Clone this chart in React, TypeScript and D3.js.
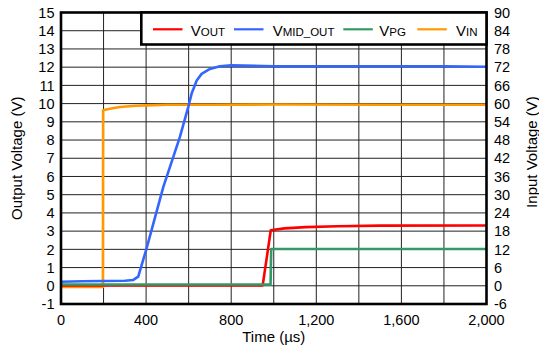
import { useEffect, useRef } from 'react';
import * as d3 from 'd3';

// tick labels
const timeTicks = [0, 400, 800, 1200, 1600, 2000];
const outTicks = [-1, 0, 1, 2, 3, 4, 5, 6, 7, 8, 9, 10, 11, 12, 13, 14, 15];
const inTicks = [-6, 0, 6, 12, 18, 24, 30, 36, 42, 48, 54, 60, 66, 72, 78, 84, 90];
const gridTimes = [200, 400, 600, 800, 1000, 1200, 1400, 1600, 1800];

// traces (time in µs, volts)
const vinTime = [0, 197, 198, 230, 277, 350, 400, 500, 700, 1000, 1500, 2000];
const vinVolts = [-0.4, -0.4, 57.8, 58.3, 58.9, 59.3, 59.4, 59.6, 59.6, 59.7, 59.6, 59.6];

const midTime = [0, 100, 200, 300, 340, 363, 400, 481, 559, 598, 614, 638, 661, 700, 747, 800, 1000, 1200, 1500, 1800, 2000];
const midVolts = [0.22, 0.25, 0.26, 0.28, 0.32, 0.5, 1.96, 5.43, 8.17, 9.81, 10.55, 11.27, 11.63, 11.9, 12.05, 12.1, 12.05, 12.05, 12.05, 12.05, 12.02];

const outTime = [0, 948, 986, 1050, 1150, 1300, 1500, 2000];
const outVolts = [0.02, 0.02, 3.05, 3.15, 3.22, 3.27, 3.3, 3.31];

const pgTime = [0, 985, 988, 2000];
const pgVolts = [0.07, 0.07, 2.02, 2.02];

const legendMain = ['V', 'V', 'V', 'V'];
const legendSub = ['OUT', 'MID_OUT', 'PG', 'IN'];
const colors = ['#ff0000', '#3366ff', '#339966', '#ff9900'];

const FONT = 'Liberation Sans, Arial, Helvetica, sans-serif';

const App = () => {
  const svgRef = useRef<SVGSVGElement>(null);

  useEffect(() => {
    if (!svgRef.current) return;
    const svg = d3.select(svgRef.current);
    svg.selectAll('*').remove();

    const left = 61, right = 486.5, top = 12.5, bottom = 304;

    const x = d3.scaleLinear().domain([0, 2000]).range([left, right]);
    const yL = d3.scaleLinear().domain([-1, 15]).range([bottom, top]);
    const yR = d3.scaleLinear().domain([-6, 90]).range([bottom, top]);

    svg.append('rect')
      .attr('width', 539).attr('height', 348).attr('fill', '#fff');

    // grid
    const grid = svg.append('g').attr('stroke', '#222').attr('stroke-width', 1);
    grid.selectAll('line.v')
      .data(gridTimes)
      .enter()
      .append('line')
      .attr('x1', d => x(d)).attr('x2', d => x(d))
      .attr('y1', top).attr('y2', bottom);
    grid.selectAll('line.h')
      .data(outTicks.slice(1, -1))
      .enter()
      .append('line')
      .attr('x1', left).attr('x2', right)
      .attr('y1', d => yL(d)).attr('y2', d => yL(d));

    // traces
    const traces = [
      { t: vinTime, v: vinVolts, y: yR, color: colors[3] },
      { t: midTime, v: midVolts, y: yL, color: colors[1] },
      { t: outTime, v: outVolts, y: yL, color: colors[0] },
      { t: pgTime, v: pgVolts, y: yL, color: colors[2] },
    ];
    traces.forEach(tr => {
      const line = d3.line<number>()
        .x((_, i) => x(tr.t[i]))
        .y(d => tr.y(d));
      svg.append('path')
        .datum(tr.v)
        .attr('fill', 'none')
        .attr('stroke', tr.color)
        .attr('stroke-width', 2.6)
        .attr('stroke-linejoin', 'round')
        .attr('d', line);
    });

    // frame
    svg.append('rect')
      .attr('x', left).attr('y', top)
      .attr('width', right - left).attr('height', bottom - top)
      .attr('fill', 'none')
      .attr('stroke', '#000')
      .attr('stroke-width', 2.6);

    // legend
    const lg = svg.append('g');
    lg.append('rect')
      .attr('x', 141.3).attr('y', top)
      .attr('width', right - 141.3).attr('height', 32)
      .attr('fill', '#fff')
      .attr('stroke', '#000')
      .attr('stroke-width', 2.6);
    const lineX = [153, 234, 343.3, 417.3];
    const textX = [190.7, 272.7, 379.3, 456];
    legendSub.forEach((sub, i) => {
      lg.append('line')
        .attr('x1', lineX[i]).attr('x2', lineX[i] + 29.5)
        .attr('y1', 29.3).attr('y2', 29.3)
        .attr('stroke', colors[i])
        .attr('stroke-width', 2.2);
      const t = lg.append('text')
        .attr('x', textX[i]).attr('y', 36)
        .style('font-family', FONT)
        .style('font-size', '15px')
        .style('fill', '#000');
      t.append('tspan').text(legendMain[i]);
      t.append('tspan').style('font-size', '11.5px').text(sub);
    });

    // tick labels
    const tickStyle = (sel: any) => sel
      .style('font-family', FONT)
      .style('font-size', '14.5px')
      .style('fill', '#000');

    svg.append('g').selectAll('text')
      .data(outTicks)
      .enter()
      .append('text')
      .attr('x', 54.5)
      .attr('y', d => yL(d))
      .attr('dy', '0.36em')
      .attr('text-anchor', 'end')
      .call(tickStyle)
      .text(d => d);

    svg.append('g').selectAll('text')
      .data(inTicks)
      .enter()
      .append('text')
      .attr('x', 494)
      .attr('y', d => yR(d))
      .attr('dy', '0.36em')
      .attr('text-anchor', 'start')
      .call(tickStyle)
      .text(d => d);

    svg.append('g').selectAll('text')
      .data(timeTicks)
      .enter()
      .append('text')
      .attr('x', d => x(d))
      .attr('y', 325)
      .attr('text-anchor', 'middle')
      .call(tickStyle)
      .text(d => d3.format(',')(d));

    // axis titles
    svg.append('text')
      .attr('x', (left + right) / 2)
      .attr('y', 342)
      .attr('text-anchor', 'middle')
      .style('font-family', FONT)
      .style('font-size', '15px')
      .text('Time (µs)');

    svg.append('text')
      .attr('transform', `translate(21.5,${(top + bottom) / 2}) rotate(-90)`)
      .attr('text-anchor', 'middle')
      .style('font-family', FONT)
      .style('font-size', '15px')
      .text('Output Voltage (V)');

    svg.append('text')
      .attr('transform', `translate(536.5,152) rotate(-90)`)
      .attr('text-anchor', 'middle')
      .style('font-family', FONT)
      .style('font-size', '15px')
      .text('Input Voltage (V)');
  }, []);

  return (
    <svg
      ref={svgRef}
      width={539}
      height={348}
      style={{ position: 'absolute', left: 0, top: 0 }}
    ></svg>
  );
};

export default App;
